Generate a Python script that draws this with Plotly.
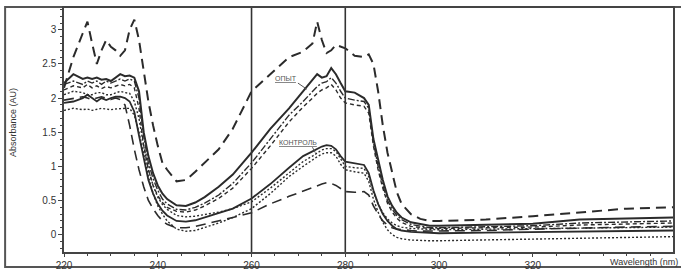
import plotly.graph_objects as go

wavelength = [220, 222, 224, 225, 226, 227, 228, 229, 230, 231, 232, 233, 234, 235, 236, 237, 238, 239, 240, 241, 242,
              244, 246, 248, 250, 253, 256, 260, 264, 268, 271, 273, 274, 275, 276, 277, 278, 279, 280,
              282, 284, 285, 286, 287, 288, 289, 290, 291, 292, 294, 296, 298, 300, 310, 320, 330, 340, 350]

opyt_long_dash = [2.15, 2.6, 2.95, 3.12, 2.8, 2.5, 2.7, 2.85, 2.75, 2.7, 2.62, 2.7, 3.0, 3.15, 2.85, 2.4, 1.95, 1.6, 1.3, 1.05, 0.95,
                  0.78, 0.8, 0.92, 1.05, 1.25, 1.55, 2.1, 2.35, 2.6, 2.68, 2.8, 3.12, 2.85, 2.66, 2.7, 2.78, 2.76, 2.73,
                  2.62, 2.6, 2.64, 2.5, 2.1, 1.6, 1.2, 0.9, 0.62, 0.45, 0.3, 0.23, 0.2, 0.2, 0.22, 0.27, 0.33, 0.38, 0.4]

opyt_solid = [2.22, 2.35, 2.28, 2.3, 2.28, 2.3, 2.27, 2.28, 2.25, 2.3, 2.35, 2.32, 2.33, 2.3, 2.1, 1.5, 1.15, 0.9, 0.72, 0.6, 0.52,
              0.43, 0.42, 0.47, 0.55, 0.7, 0.88, 1.2, 1.55, 1.85, 2.1, 2.25, 2.35, 2.3, 2.32, 2.44, 2.35, 2.22, 2.1,
              2.08, 2.0, 1.9, 1.4, 1.1, 0.8, 0.56, 0.42, 0.32, 0.25, 0.18, 0.15, 0.13, 0.13, 0.14, 0.16, 0.22, 0.24, 0.25]

opyt_dashdot = [2.2, 2.25, 2.2, 2.25, 2.22, 2.25, 2.2, 2.25, 2.22, 2.25, 2.28, 2.25, 2.28, 2.25, 2.0, 1.45, 1.05, 0.82, 0.65, 0.52, 0.45,
                0.37, 0.36, 0.4, 0.46, 0.58, 0.75, 1.05, 1.4, 1.75, 1.95, 2.1, 2.17, 2.22, 2.24, 2.3, 2.22, 2.1, 2.0,
                1.97, 1.95, 1.85, 1.35, 1.0, 0.72, 0.5, 0.37, 0.28, 0.22, 0.15, 0.12, 0.1, 0.1, 0.11, 0.13, 0.17, 0.19, 0.2]

opyt_short_dash = [2.12, 2.18, 2.15, 2.2, 2.15, 2.18, 2.14, 2.17, 2.15, 2.18, 2.2, 2.18, 2.2, 2.15, 1.85, 1.3, 0.95, 0.72, 0.57, 0.47, 0.4,
                   0.34, 0.33, 0.36, 0.42, 0.53, 0.68, 0.97, 1.3, 1.65, 1.87, 2.0, 2.07, 2.12, 2.15, 2.2, 2.12, 2.0, 1.93,
                   1.9, 1.88, 1.78, 1.3, 0.95, 0.68, 0.46, 0.33, 0.24, 0.18, 0.12, 0.1, 0.09, 0.09, 0.1, 0.11, 0.14, 0.16, 0.17]

kontrol_solid = [1.93, 1.95, 2.0, 2.05, 2.0, 1.95, 2.0, 1.97, 2.0, 2.02, 2.02, 2.0, 1.95, 1.8, 1.45, 1.1, 0.8, 0.6, 0.45, 0.35, 0.28,
                 0.2, 0.19, 0.21, 0.25, 0.31, 0.38, 0.53, 0.74, 0.98, 1.15, 1.22, 1.26, 1.29, 1.31, 1.3, 1.25, 1.15, 1.07,
                 1.05, 1.02, 0.9, 0.65, 0.45, 0.3, 0.2, 0.13, 0.08, 0.06, 0.04, 0.03, 0.02, 0.02, 0.03, 0.04, 0.05, 0.06, 0.06]

kontrol_dot_upper = [2.05, 2.1, 2.08, 2.05, 2.05, 2.08, 2.08, 2.05, 2.05, 2.08, 2.1, 2.08, 2.07, 1.95, 1.7, 1.3, 0.95, 0.72, 0.55, 0.44, 0.37,
                     0.28, 0.26, 0.27, 0.29, 0.33, 0.38, 0.48, 0.68, 0.9, 1.07, 1.15, 1.2, 1.24, 1.26, 1.26, 1.22, 1.1, 1.0,
                     0.98, 0.97, 0.85, 0.62, 0.45, 0.32, 0.23, 0.17, 0.13, 0.11, 0.09, 0.08, 0.07, 0.07, 0.08, 0.09, 0.1, 0.1, 0.11]

kontrol_dot_lower = [1.82, 1.85, 1.83, 1.84, 1.82, 1.84, 1.85, 1.84, 1.83, 1.84, 1.85, 1.85, 1.85, 1.75, 1.5, 1.15, 0.85, 0.6, 0.42, 0.3, 0.2,
                     0.08, 0.05, 0.06, 0.1, 0.17, 0.25, 0.38, 0.6, 0.85, 1.0, 1.1, 1.14, 1.18, 1.2, 1.2, 1.15, 1.03, 0.95,
                     0.92, 0.9, 0.78, 0.52, 0.33, 0.18, 0.07, 0.0, -0.04, -0.06, -0.08, -0.09, -0.09, -0.09, -0.08, -0.07, -0.05, -0.04, -0.03]

kontrol_long_dash = [1.97, 2.0, 2.02, 2.0, 1.98, 2.0, 2.02, 2.0, 1.98, 2.0, 1.98, 1.9, 1.6, 1.25, 0.95, 0.7, 0.5, 0.38, 0.28, 0.2, 0.15,
                     0.1, 0.1, 0.12, 0.15, 0.2, 0.25, 0.32, 0.45, 0.56, 0.64, 0.69, 0.71, 0.74, 0.76, 0.75, 0.72, 0.67, 0.63,
                     0.62, 0.63, 0.58, 0.42, 0.3, 0.2, 0.14, 0.1, 0.08, 0.07, 0.06, 0.05, 0.05, 0.05, 0.06, 0.08, 0.1, 0.11, 0.12]

x_tick_values = [220, 240, 260, 280, 300, 320]
y_tick_values = [0, 0.5, 1, 1.5, 2, 2.5, 3]
y_tick_labels = ["0", "0.5", "1", "1.5", "2", "2.5", "3"]
marker_lines = [260, 280]

series = [
    (opyt_long_dash, "10px,6px", 2.0),
    (opyt_solid, "solid", 2.0),
    (opyt_dashdot, "7px,2px,2px,2px", 1.4),
    (opyt_short_dash, "4px,3px", 1.4),
    (kontrol_solid, "solid", 1.8),
    (kontrol_dot_upper, "2px,2px", 1.4),
    (kontrol_dot_lower, "2px,2px", 1.4),
    (kontrol_long_dash, "10px,6px", 1.6),
]

fig = go.Figure()
for ys, dash, w in series:
    fig.add_trace(go.Scatter(x=wavelength, y=ys, mode="lines", showlegend=False,
                             line=dict(color="#2b2b2b", width=w, dash=dash), hoverinfo="skip"))

for xv in marker_lines:
    fig.add_shape(type="line", xref="x", yref="paper", x0=xv, x1=xv, y0=0, y1=1,
                  line=dict(color="#333333", width=1.6))

# outer frame
fig.add_shape(type="rect", xref="paper", yref="paper", x0=-0.0967, x1=1.03, y0=-0.061, y1=1.004,
              line=dict(color="#555555", width=2), layer="below")

axis_font = dict(family="Liberation Sans, Arial, sans-serif", size=10, color="#333333")

fig.update_xaxes(range=[220, 349.9], tickvals=x_tick_values, ticks="outside", ticklen=3,
                 tickcolor="#444444", showline=True, linecolor="#444444", linewidth=1.5, mirror=True,
                 showgrid=False, zeroline=False, tickfont=axis_font,
                 minor=dict(dtick=5, ticks="outside", ticklen=2, tickcolor="#444444"))
fig.update_yaxes(range=[-0.255, 3.32], tickvals=y_tick_values, ticktext=y_tick_labels, ticks="outside",
                 ticklen=4, tickcolor="#444444", showline=True, linecolor="#444444", linewidth=1.5,
                 mirror=True, showgrid=False, zeroline=False, tickfont=axis_font,
                 minor=dict(dtick=0.1, ticks="outside", ticklen=2, tickcolor="#444444"))

fig.add_annotation(text="Absorbance (AU)", xref="paper", yref="paper", x=-0.085, y=0.53,
                   xanchor="center", yanchor="middle",
                   textangle=-90, showarrow=False, font=dict(family="Liberation Sans, Arial, sans-serif", size=9, color="#333333"))
fig.add_annotation(text="Wavelength (nm)", xref="paper", yref="paper", x=1.0115, y=-0.04,
                   xanchor="right", yanchor="middle", showarrow=False,
                   font=dict(family="Liberation Sans, Arial, sans-serif", size=9, color="#333333"))

label_font = dict(family="Liberation Sans, Arial, sans-serif", size=7, color="#555555")
fig.add_annotation(text="<u>ОПЫТ</u>", x=267.3, y=2.29, showarrow=False, font=label_font)
fig.add_shape(type="line", x0=269.9, y0=2.22, x1=271.8, y1=2.13, line=dict(color="#555555", width=1))
fig.add_annotation(text="<u>КОНТРОЛЬ</u>", x=269.9, y=1.35, showarrow=False, font=label_font)
fig.add_shape(type="line", x0=273.0, y0=1.28, x1=273.6, y1=1.2, line=dict(color="#555555", width=1))

fig.update_layout(width=681, height=277, margin=dict(l=64, r=8, t=6, b=24),
                  plot_bgcolor="white", paper_bgcolor="white")

fig.write_html("out.html", config={"displayModeBar": False},
               post_script="document.body.style.margin='0';document.body.style.padding='0';document.body.style.overflow='hidden';")
